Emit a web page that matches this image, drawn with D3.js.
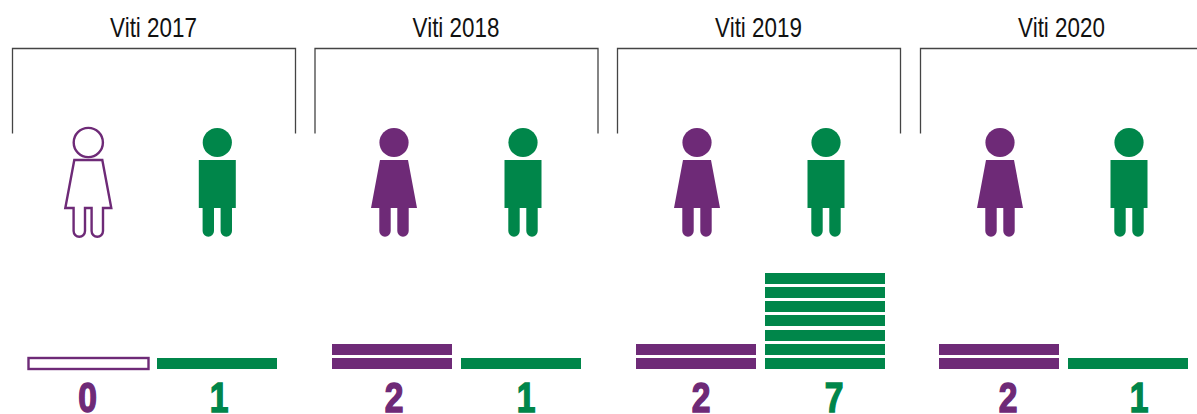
<!DOCTYPE html>
<html>
<head>
<meta charset="utf-8">
<script src="https://cdn.jsdelivr.net/npm/d3@7"></script>
<style>
  html, body { margin: 0; padding: 0; background: #fff; overflow: hidden; }
  text { font-family: "Liberation Sans", sans-serif; }
</style>
</head>
<body>
<div id="chart"></div>
<script>
// data
var years = ["Viti 2017", "Viti 2018", "Viti 2019", "Viti 2020"];
var women = [0, 2, 2, 2];
var men = [1, 1, 7, 1];

var width = 1197, height = 414;
var purple = "#6e2a77", green = "#00864a";

var svg = d3.select("#chart").append("svg")
  .attr("width", width)
  .attr("height", height)
  .style("display", "block");

// the columns are not evenly spaced in the original, so ordinal scales
var bracketX = d3.scaleOrdinal().domain(years).range([12.5, 315, 617.5, 920.5]);
var womanIconX = d3.scaleOrdinal().domain(years).range([88.3, 394, 697, 1000]);
var manIconX = d3.scaleOrdinal().domain(years).range([217.3, 523, 826, 1129]);
var womanBarX = d3.scaleOrdinal().domain(years).range([28, 332, 636, 939]);
var manBarX = d3.scaleOrdinal().domain(years).range([157, 461, 765, 1068]);
var womanNumX = d3.scaleOrdinal().domain(years).range([87.5, 394, 701, 1008]);
var manNumX = d3.scaleOrdinal().domain(years).range([219, 526, 834, 1139]);

// top of the nth row in a stack
var y = d3.scaleLinear().domain([1, 7]).range([358, 272.9]);
var barW = 120, barH = 11;

var bracketW = 283;
svg.selectAll("path.bracket")
  .data(years)
  .enter()
  .append("path")
    .attr("class", "bracket")
    .attr("d", function(d) {
      var x = bracketX(d);
      return "M" + x + ",133.5V48.5H" + (x + bracketW) + "V133.5";
    })
    .attr("fill", "none")
    .attr("stroke", "#444")
    .attr("stroke-width", 1.3);

// no condensed font here, so squeeze the text
svg.selectAll("text.year")
  .data(years)
  .enter()
  .append("text")
    .attr("class", "year")
    .attr("transform", function(d) { return "translate(" + (bracketX(d) + bracketW / 2 - 0.5) + ",37) scale(0.83,1)"; })
    .attr("text-anchor", "middle")
    .attr("font-size", 27)
    .attr("fill", "#111")
    .text(function(d) { return d; });

// icon shapes, centred on x = 0
var womanBody = "M-14,160H14L23,208H14.7V231A5.7,5.7 0 0 1 3.3,231V208H-3.3V231A5.7,5.7 0 0 1 -14.7,231V208H-23Z";
var manBody = "M-18.5,160H18.5V208H14.7V231A5.7,5.7 0 0 1 3.3,231V208H-3.3V231A5.7,5.7 0 0 1 -14.7,231V208H-18.5Z";

function icon(xScale, bodyPath, color, values) {
  var g = svg.selectAll(null)
    .data(years)
    .enter()
    .append("g")
      .attr("transform", function(d) { return "translate(" + xScale(d) + ",0)"; });

  // empty icon when nobody is counted
  function fill(d, i) { return values[i] == 0 ? "#fff" : color; }
  function stroke(d, i) { return values[i] == 0 ? color : "none"; }

  g.append("circle")
    .attr("cy", 142.5)
    .attr("r", 14.6)
    .attr("fill", fill)
    .attr("stroke", stroke)
    .attr("stroke-width", 2.4);

  g.append("path")
    .attr("d", bodyPath)
    .attr("fill", fill)
    .attr("stroke", stroke)
    .attr("stroke-width", 2.4);
}

icon(womanIconX, womanBody, purple, women);
icon(manIconX, manBody, green, men);

function stack(xScale, numScale, color, values) {
  years.forEach(function(year, i) {
    var n = values[i];
    if (n == 0) {
      // outlined row for a zero
      svg.append("rect")
        .attr("x", xScale(year) + 0.5)
        .attr("y", y(1))
        .attr("width", barW)
        .attr("height", barH)
        .attr("fill", "#fff")
        .attr("stroke", color)
        .attr("stroke-width", 2.4);
    }
    svg.selectAll(null)
      .data(d3.range(1, n + 1))
      .enter()
      .append("rect")
        .attr("x", xScale(year))
        .attr("y", function(d) { return Math.round(y(d)); })
        .attr("width", barW)
        .attr("height", barH)
        .attr("fill", color);

    svg.append("text")
      .attr("transform", "translate(" + numScale(year) + ",411.5) scale(0.8,1)")
      .attr("text-anchor", "middle")
      .attr("font-size", 42)
      .attr("font-weight", "bold")
      .attr("fill", color)
      .attr("stroke", color)
      .attr("stroke-width", 1.5)
      .text(n);
  });
}

stack(womanBarX, womanNumX, purple, women);
stack(manBarX, manNumX, green, men);
</script>
</body>
</html>
